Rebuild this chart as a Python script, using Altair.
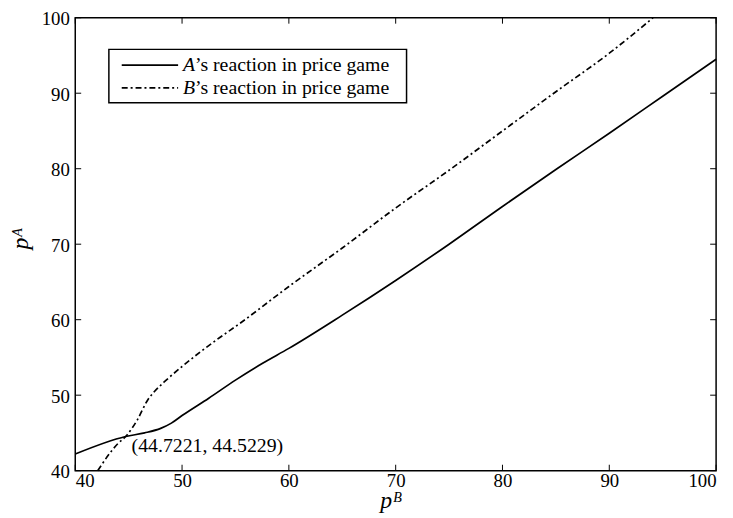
import altair as alt
import pandas as pd

# ---- data ----
a_pb = [40, 44.7221, 46.5, 48, 49, 50, 52.5, 55, 57.5, 60, 65, 70, 75, 80, 85, 90, 95, 100]
a_pa = [42.2, 44.5229, 45.0, 45.6, 46.3, 47.3, 49.6, 52.0, 54.2, 56.2, 60.6, 65.2, 70.0, 75.0, 79.9, 84.7, 89.6, 94.5]
b_pb = [42.1, 44.0, 44.7221, 45.8, 46.8, 47.3, 48.6, 50, 53.3, 55.5, 60, 65, 70, 75, 80, 85, 90, 94.1]
b_pa = [40, 43.6, 44.5229, 46.7, 49.4, 50.3, 52.1, 53.8, 57.4, 59.6, 64.4, 69.5, 74.8, 79.8, 85.0, 90.2, 95.3, 100]
eq_pb = [44.7221]
eq_pa = [44.5229]
eq_label = ["(44.7221, 44.5229)"]
ticks = [40, 50, 60, 70, 80, 90, 100]
legend_letters = ["A", "B"]
legend_rest = ["\u2019s reaction in price game", "\u2019s reaction in price game"]

W, H = 648, 458
FONT = "Liberation Serif"

xs = alt.Scale(domain=[40, 100], nice=False, zero=False)
ys = alt.Scale(domain=[40, 100], nice=False, zero=False)

df_a = pd.DataFrame({"pb": a_pb, "pa": a_pa})
df_b = pd.DataFrame({"pb": b_pb, "pa": b_pa})
df_eq = pd.DataFrame({"pb": eq_pb, "pa": eq_pa, "t": eq_label})
df_t = pd.DataFrame({"v": ticks})

xaxis = alt.Axis(values=ticks, title="p\u1d2e", grid=False, ticks=False, tickSize=0, domain=False,
                 labelPadding=1, labelFontSize=19, labelFont=FONT, labelColor="black",
                 titleFont=FONT, titleFontSize=24, titleFontStyle="italic", titleFontWeight="normal",
                 titleColor="black", titleBaseline="alphabetic", titleY=37, titleX=W / 2 - 5)
yaxis = alt.Axis(values=ticks, title="p\u1d2c", grid=False, ticks=False, tickSize=0, domain=False,
                 labelPadding=6, labelFontSize=19, labelFont=FONT, labelColor="black", labelOffset=1,
                 titleFont=FONT, titleFontSize=24, titleFontStyle="italic", titleFontWeight="normal",
                 titleColor="black", titleBaseline="alphabetic", titleAngle=270, titleX=-48, titleY=H / 2 - 6)

line_a = alt.Chart(df_a).mark_line(color="black", strokeWidth=1.7, interpolate="monotone").encode(
    x=alt.X("pb:Q", scale=xs, axis=xaxis),
    y=alt.Y("pa:Q", scale=ys, axis=yaxis),
    order="pb:Q",
)
line_b = alt.Chart(df_b).mark_line(color="black", strokeWidth=1.7, strokeDash=[6, 3, 2, 3],
                                   interpolate="monotone").encode(
    x=alt.X("pb:Q", scale=xs),
    y=alt.Y("pa:Q", scale=ys),
    order="pb:Q",
)
eq_text = alt.Chart(df_eq).mark_text(align="left", baseline="middle", dx=6, dy=10,
                                     font=FONT, fontSize=20, color="black").encode(
    x=alt.X("pb:Q", scale=xs), y=alt.Y("pa:Q", scale=ys), text="t:N")

# inward ticks on all four sides
tk = dict(color="black", strokeWidth=1)
t_bottom = alt.Chart(df_t).mark_rule(**tk).encode(x=alt.X("v:Q", scale=xs), y=alt.value(H), y2=alt.value(H - 6))
t_top = alt.Chart(df_t).mark_rule(**tk).encode(x=alt.X("v:Q", scale=xs), y=alt.value(0), y2=alt.value(6))
t_left = alt.Chart(df_t).mark_rule(**tk).encode(y=alt.Y("v:Q", scale=ys), x=alt.value(0), x2=alt.value(6))
t_right = alt.Chart(df_t).mark_rule(**tk).encode(y=alt.Y("v:Q", scale=ys), x=alt.value(W), x2=alt.value(W - 6))

# legend box drawn by hand (MATLAB style)
one = pd.DataFrame({"k": [0]})
leg_box = alt.Chart(one).mark_rect(fill="white", stroke="black", strokeWidth=1.5).encode(
    x=alt.value(34), x2=alt.value(335), y=alt.value(32), y2=alt.value(86))
leg_a = alt.Chart(one).mark_rule(color="black", strokeWidth=1.7).encode(
    x=alt.value(47), x2=alt.value(104), y=alt.value(48))
leg_b = alt.Chart(one).mark_rule(color="black", strokeWidth=1.7, strokeDash=[6, 3, 2, 3]).encode(
    x=alt.value(47), x2=alt.value(104), y=alt.value(71))
txt = dict(align="left", baseline="middle", font=FONT, fontSize=20, color="black")
leg_t = []
for i, yy in enumerate([48, 71]):
    d = pd.DataFrame({"l": [legend_letters[i]], "r": [legend_rest[i]]})
    leg_t.append(alt.Chart(d).mark_text(fontStyle="italic", **txt).encode(
        x=alt.value(109), y=alt.value(yy), text="l:N"))
    leg_t.append(alt.Chart(d).mark_text(**txt).encode(
        x=alt.value(121), y=alt.value(yy), text="r:N"))

chart = alt.layer(
    line_a, line_b, eq_text, t_bottom, t_top, t_left, t_right, leg_box, leg_a, leg_b, *leg_t
).properties(
    width=W, height=H,
    autosize=alt.AutoSizeParams(type="none"),
    padding={"left": 68, "top": 7, "right": 9, "bottom": 43},
    background="white",
).configure_view(stroke="black", strokeWidth=1.5)

chart.save("out.html", embed_options={"renderer": "svg", "actions": False})
